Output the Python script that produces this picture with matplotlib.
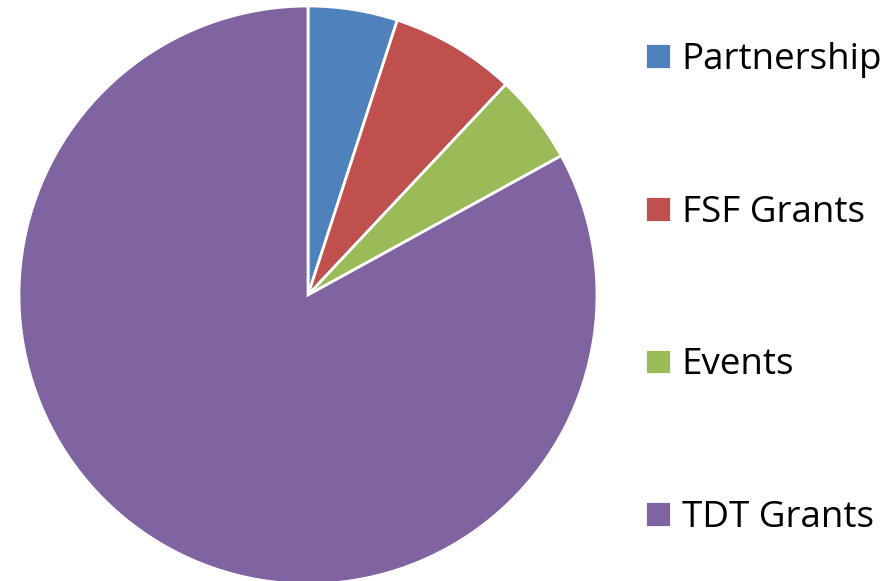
import matplotlib.pyplot as plt

labels = ['Partnership', 'FSF Grants', 'Events', 'TDT Grants']
values = [5, 7, 5, 83]
colors = ['#4F81BD', '#C0504D', '#9BBB59', '#8064A2']

plt.rcParams['font.family'] = ['Open Sans', 'DejaVu Sans']

fig = plt.figure(figsize=(8.95, 5.81), dpi=100)
ax = fig.add_axes([19 / 895, -3 / 581, 578 / 895, 578 / 581])
wedges, _ = ax.pie(values, colors=colors, startangle=90, counterclock=False,
                   wedgeprops=dict(edgecolor='white', linewidth=2))
ax.set_xlim(-1.0, 1.0)
ax.set_ylim(-1.0, 1.0)
ax.set_aspect('equal')

leg = fig.legend(wedges, labels, loc='upper left', bbox_to_anchor=(645 / 895, 1 - 42 / 581),
                 frameon=False, fontsize=26.5, handlelength=0.7, handleheight=0.7,
                 handletextpad=0.3, labelspacing=3.17, borderpad=0, borderaxespad=0)

fig.savefig('out.png', dpi=100)
